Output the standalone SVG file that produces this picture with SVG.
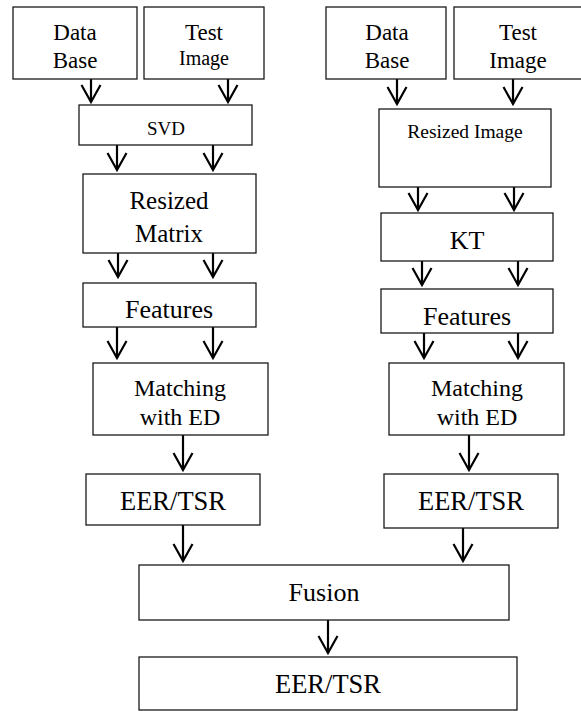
<svg xmlns="http://www.w3.org/2000/svg" width="581" height="711" viewBox="0 0 581 711">
<defs>
<style>
.box{fill:#fff;stroke:#1a1a1a;stroke-width:1.3}
text{font-family:'Liberation Serif','Times New Roman',serif;fill:#000;text-anchor:middle}
.c{stroke:#000;stroke-width:2.2;fill:none;marker-end:url(#ah)}
</style>
<marker id="ah" viewBox="-2 -12 22 24" refX="17" refY="0" markerWidth="22" markerHeight="24" markerUnits="userSpaceOnUse" orient="auto">
<path d="M0,-9.5 L17,0 L0,9.5" fill="none" stroke="#000" stroke-width="2.2"/>
</marker>
</defs>
<rect width="581" height="711" fill="#fff"/>
<g id="connectors">
<line class="c" x1="91" y1="79" x2="91" y2="102"/>
<line class="c" x1="228" y1="79" x2="228" y2="102"/>
<line class="c" x1="117" y1="145" x2="117" y2="170"/>
<line class="c" x1="213" y1="143" x2="213" y2="170"/>
<line class="c" x1="118" y1="253" x2="118" y2="277"/>
<line class="c" x1="213" y1="251" x2="213" y2="277"/>
<line class="c" x1="117" y1="327" x2="117" y2="358"/>
<line class="c" x1="213" y1="327" x2="213" y2="358"/>
<line class="c" x1="183" y1="435" x2="183" y2="470"/>
<line class="c" x1="183" y1="525" x2="183" y2="561"/>
<line class="c" x1="397" y1="79" x2="397" y2="104"/>
<line class="c" x1="513" y1="79" x2="513" y2="104"/>
<line class="c" x1="418" y1="187" x2="418" y2="210"/>
<line class="c" x1="514" y1="187" x2="514" y2="210"/>
<line class="c" x1="422" y1="261" x2="422" y2="285"/>
<line class="c" x1="518" y1="261" x2="518" y2="285"/>
<line class="c" x1="424" y1="333" x2="424" y2="358"/>
<line class="c" x1="518" y1="333" x2="518" y2="358"/>
<line class="c" x1="469" y1="435" x2="469" y2="470"/>
<line class="c" x1="463" y1="528" x2="463" y2="561"/>
<line class="c" x1="328" y1="620" x2="328" y2="653"/>
</g>
<g id="l_database"><rect class="box" x="13" y="7" width="124" height="72"/><text x="75" y="40" font-size="23">Data</text><text x="75" y="68" font-size="23">Base</text></g>
<g id="l_testimage"><rect class="box" x="144" y="7" width="120" height="72"/><text x="204" y="40" font-size="23">Test</text><text x="204" y="65" font-size="20">Image</text></g>
<g id="l_svd"><rect class="box" x="79" y="105" width="173" height="40"/><text x="166" y="135" font-size="19">SVD</text></g>
<g id="l_resized"><rect class="box" x="83" y="174" width="173" height="79"/><text x="169" y="209" font-size="25">Resized</text><text x="169" y="242" font-size="25">Matrix</text></g>
<g id="l_features"><rect class="box" x="83" y="283" width="173" height="44"/><text x="169" y="318" font-size="26">Features</text></g>
<g id="l_matching"><rect class="box" x="93" y="363" width="175" height="72"/><text x="180" y="396" font-size="24">Matching</text><text x="180" y="425" font-size="24">with ED</text></g>
<g id="l_eer"><rect class="box" x="86" y="474" width="174" height="51"/><text x="173" y="510" font-size="26.5">EER/TSR</text></g>
<g id="r_database"><rect class="box" x="326" y="7" width="120" height="72"/><text x="387" y="40" font-size="23">Data</text><text x="387" y="68" font-size="23">Base</text></g>
<g id="r_testimage"><rect class="box" x="454" y="7" width="135" height="72"/><text x="518" y="40" font-size="23">Test</text><text x="518" y="68" font-size="23">Image</text></g>
<g id="r_resized"><rect class="box" x="379" y="109" width="172" height="78"/><text x="465" y="138" font-size="19.5">Resized Image</text></g>
<g id="r_kt"><rect class="box" x="381" y="213" width="172" height="48"/><text x="467" y="249" font-size="26">KT</text></g>
<g id="r_features"><rect class="box" x="381" y="289" width="172" height="44"/><text x="467" y="325" font-size="26">Features</text></g>
<g id="r_matching"><rect class="box" x="389" y="363" width="175" height="72"/><text x="477" y="396" font-size="24">Matching</text><text x="477" y="425" font-size="24">with ED</text></g>
<g id="r_eer"><rect class="box" x="384" y="474" width="174" height="54"/><text x="471" y="510" font-size="26.5">EER/TSR</text></g>
<g id="fusion"><rect class="box" x="139" y="565" width="370" height="55"/><text x="324" y="601" font-size="26">Fusion</text></g>
<g id="final_eer"><rect class="box" x="139" y="657" width="378" height="53"/><text x="328" y="693" font-size="26.5">EER/TSR</text></g>
</svg>
